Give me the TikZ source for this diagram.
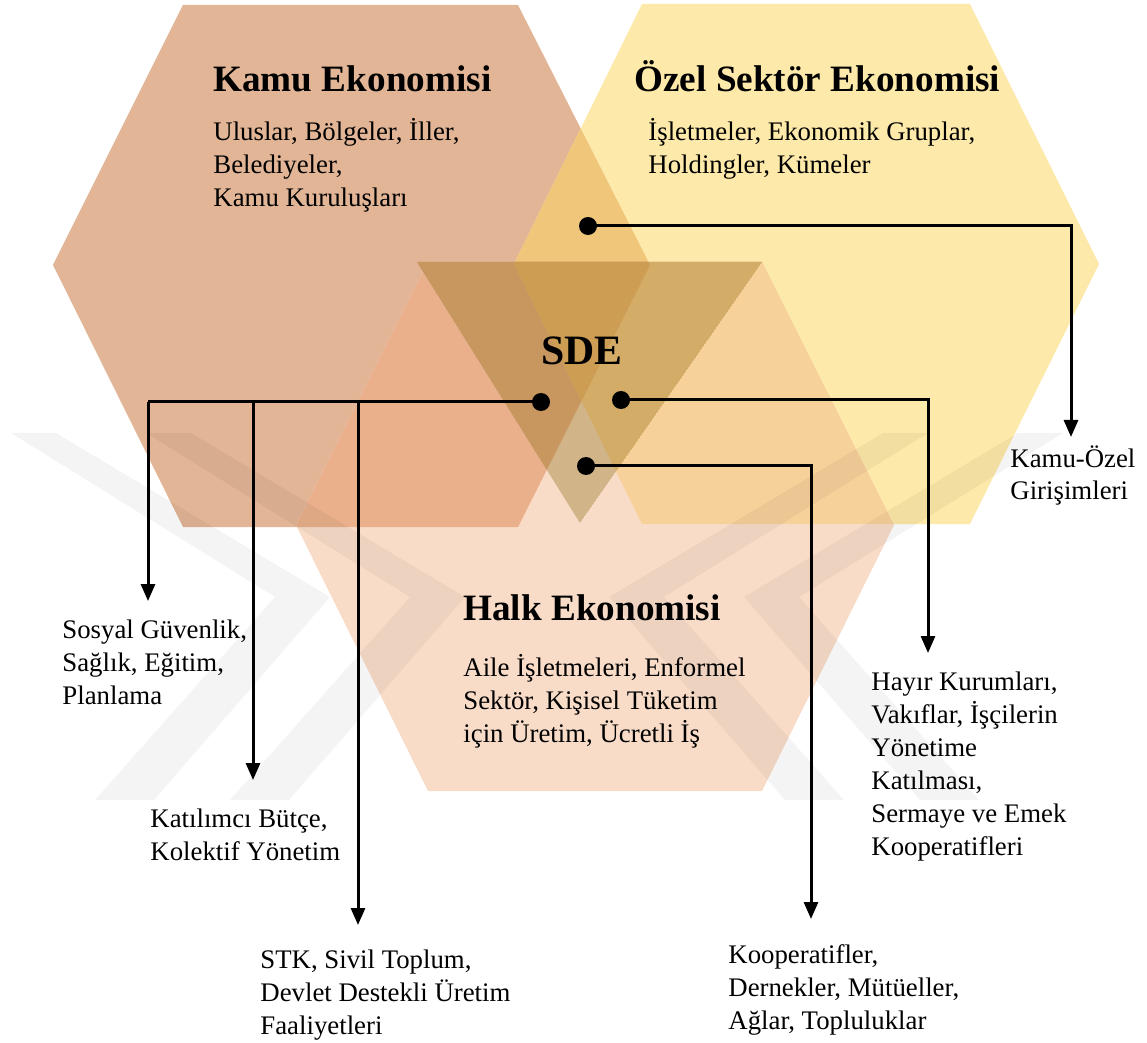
\documentclass[tikz,border=0pt]{standalone}
\usepackage{fontspec}
\setmainfont{Liberation Serif}
\usetikzlibrary{arrows.meta}
\definecolor{cK}{RGB}{226,181,150}
\definecolor{cY}{RGB}{253,233,169}
\definecolor{cH}{RGB}{248,220,200}
\definecolor{cKY}{RGB}{240,198,122}
\definecolor{cKH}{RGB}{234,176,140}
\definecolor{cYH}{RGB}{247,209,154}
\definecolor{cTK}{RGB}{200,150,95}
\definecolor{cTKY}{RGB}{204,157,82}
\definecolor{cTY}{RGB}{211,172,104}
\definecolor{cTH}{RGB}{209,180,136}
\def\Kpath{(183,5) -- (518,5) -- (650,265) -- (518,527) -- (183,527) -- (53,265) -- cycle}
\def\Ypath{(642,4) -- (970,4) -- (1099,264) -- (970,524) -- (642,524) -- (514,264) -- cycle}
\def\Hpath{(428,262) -- (762,262) -- (894,525) -- (762,791) -- (428,791) -- (296,525) -- cycle}
\def\Tpath{(417,262) -- (762,262) -- (580,523) -- cycle}
\begin{document}
\begin{tikzpicture}[x=0.5pt,y=-0.5pt,
  title/.style={anchor=base west,inner sep=0pt,font=\fontsize{18.6pt}{22pt}\selectfont\bfseries},
  body/.style={anchor=base west,inner sep=0pt,align=left,font=\fontsize{13.4pt}{16.5pt}\selectfont},
  dot/.style={circle,fill=black,inner sep=0pt,minimum size=9pt},
  conn/.style={line width=1.5pt},
  arr/.style={line width=1.5pt,-{Triangle[width=7pt,length=8.5pt]}},
  wm/.style={fill=black,fill opacity=0.045}]
\useasboundingbox (0,0) rectangle (1147,1043);
% hexagons
\fill[cK] \Kpath;
\fill[cY] \Ypath;
\fill[cH] \Hpath;
\begin{scope}\clip \Kpath; \fill[cKY] \Ypath; \end{scope}
\begin{scope}\clip \Kpath; \fill[cKH] \Hpath; \end{scope}
\begin{scope}\clip \Ypath; \fill[cYH] \Hpath; \end{scope}
% triangle
\begin{scope}
  \clip \Tpath;
  \fill[cTH] \Tpath;
  \begin{scope}\clip \Kpath; \fill[cTK] \Tpath; \end{scope}
  \begin{scope}\clip \Ypath; \fill[cTY] \Tpath; \end{scope}
  \begin{scope}\clip \Kpath; \clip \Ypath; \fill[cTKY] \Tpath; \end{scope}
\end{scope}
% watermark chevrons
\fill[wm] (11,433) -- (56,433) -- (330,597) -- (154,800) -- (95,800) -- (275,597) -- cycle;
\fill[wm] (146,433) -- (191,433) -- (465,597) -- (289,800) -- (230,800) -- (410,597) -- cycle;
\fill[wm] (928,433) -- (883,433) -- (609,597) -- (785,800) -- (844,800) -- (664,597) -- cycle;
\fill[wm] (1063,433) -- (1018,433) -- (744,597) -- (920,800) -- (979,800) -- (799,597) -- cycle;
% texts (base = baseline of last line)
\node[title] (kt) at (213,92) {Kamu Ekonomisi};
\node[body] (kb) at (213,207) {Uluslar, Bölgeler, İller,\\Belediyeler,\\Kamu Kuruluşları};
\node[title] (ot) at (634,92) {Özel Sektör Ekonomisi};
\node[body] (ob) at (648,174) {İşletmeler, Ekonomik Gruplar,\\Holdingler, Kümeler};
\node[anchor=base west,inner sep=0pt,font=\fontsize{20.9pt}{24pt}\selectfont\bfseries] (sde) at (541,365) {SDE};
\node[title] (ht) at (463,620) {Halk Ekonomisi};
\node[body] (hb) at (463,742) {Aile İşletmeleri, Enformel\\Sektör, Kişisel Tüketim\\için Üretim, Ücretli İş};
\node[body] (l1) at (1010,500) {Kamu-Özel\\Girişimleri};
\node[body] (l2) at (62,704) {Sosyal Güvenlik,\\Sağlık, Eğitim,\\Planlama};
\node[body] (l3) at (150,860) {Katılımcı Bütçe,\\Kolektif Yönetim};
\node[body] (l4) at (260,1034) {STK, Sivil Toplum,\\Devlet Destekli Üretim\\Faaliyetleri};
\node[body] (l5) at (728,1029) {Kooperatifler,\\Dernekler, Mütüeller,\\Ağlar, Topluluklar};
\node[body] (l6) at (871,855) {Hayır Kurumları,\\Vakıflar, İşçilerin\\Yönetime\\Katılması,\\Sermaye ve Emek\\Kooperatifleri};
% dots
\node[dot] (d1) at (588,226) {};
\node[dot] (d2) at (541,402) {};
\node[dot] (d3) at (621,400) {};
\node[dot] (d4) at (586,466) {};
% coordinates
\coordinate (a1) at (1071,437);
\coordinate (j1) at (148,402);
\coordinate (j2) at (253,402);
\coordinate (j3) at (358,402);
\coordinate (a2) at (148,601);
\coordinate (a3) at (253,780);
\coordinate (a4) at (358,925);
\coordinate (a5) at (928,653);
\coordinate (a6) at (811,919);
% connectors
\draw[arr] (d1.center) -| (a1);
\draw[conn] (d2.center) -- (j1);
\draw[arr] (j1) -- (a2);
\draw[arr] (j2) -- (a3);
\draw[arr] (j3) -- (a4);
\draw[arr] (d3.center) -| (a5);
\draw[arr] (d4.center) -| (a6);
\end{tikzpicture}
\end{document}
